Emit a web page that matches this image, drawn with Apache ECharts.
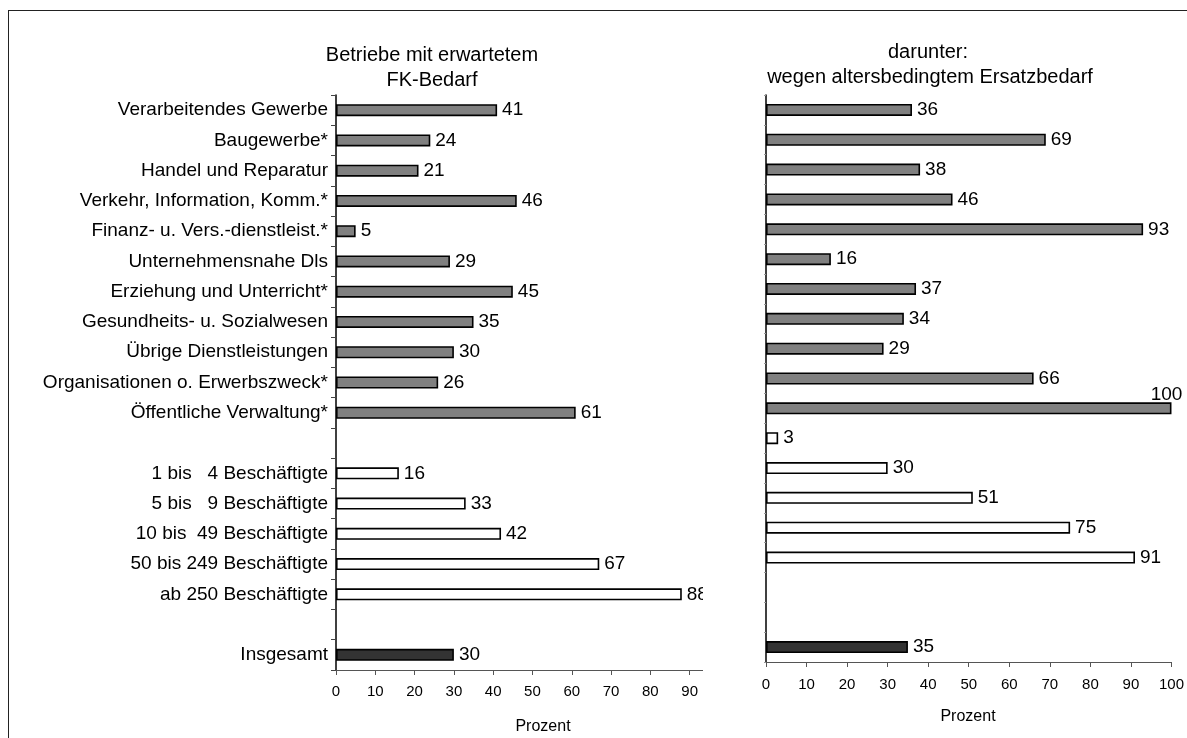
<!DOCTYPE html>
<html>
<head>
<meta charset="utf-8">
<script src="https://cdn.jsdelivr.net/npm/echarts@6/dist/echarts.min.js"></script>
<style>
  html, body { margin: 0; padding: 0; width: 1187px; height: 738px; overflow: hidden; background: #fff; }
  #frame { position: absolute; left: 8px; top: 10px; width: 1400px; height: 1000px;
           border-left: 1.5px solid #222; border-top: 1.5px solid #222; }
  #left  { position: absolute; left: 0; top: 0; width: 703px; height: 738px; overflow: hidden; }
  #right { position: absolute; left: 703px; top: 0; width: 484px; height: 738px; overflow: hidden; }
</style>
</head>
<body>
<div id="frame"></div>
<div id="left"></div>
<div id="right"></div>
<script>
// Wirtschaftszweige
const branchen = [
  'Verarbeitendes Gewerbe',
  'Baugewerbe*',
  'Handel und Reparatur',
  'Verkehr, Information, Komm.*',
  'Finanz- u. Vers.-dienstleist.*',
  'Unternehmensnahe Dls',
  'Erziehung und Unterricht*',
  'Gesundheits- u. Sozialwesen',
  'Übrige Dienstleistungen',
  'Organisationen o. Erwerbszweck*',
  'Öffentliche Verwaltung*'
];
// Betriebsgrößenklassen
const groessen = [
  '1 bis   4 Beschäftigte',
  '5 bis   9 Beschäftigte',
  '10 bis  49 Beschäftigte',
  '50 bis 249 Beschäftigte',
  'ab 250 Beschäftigte'
];
const gesamtName = 'Insgesamt';

// Betriebe mit erwartetem FK-Bedarf (Prozent)
const fkBranchen = [41, 24, 21, 46, 5, 29, 45, 35, 30, 26, 61];
const fkGroessen = [16, 33, 42, 67, 88];
const fkGesamt = 30;

// darunter: wegen altersbedingtem Ersatzbedarf (Prozent)
const ersatzBranchen = [36, 69, 38, 46, 93, 16, 37, 34, 29, 66, 100];
const ersatzGroessen = [3, 30, 51, 75, 91];
const ersatzGesamt = 35;

// Achsenbeschriftung
const ticksLinks = [0, 10, 20, 30, 40, 50, 60, 70, 80, 90];
const ticksRechts = [0, 10, 20, 30, 40, 50, 60, 70, 80, 90, 100];

const FONT = '"Liberation Sans", Arial, sans-serif';
const GRAU = '#808080', WEISS = '#ffffff', DUNKEL = '#333333';

function item(v, color) {
  return { value: v, itemStyle: { color: color } };
}

// left panel rows: branches, gap, size classes, gap, total
const linksKategorien = [...branchen, ' ', ...groessen, '  ', gesamtName];
const linksDaten = [
  ...fkBranchen.map(v => item(v, GRAU)),
  null,
  ...fkGroessen.map(v => item(v, WEISS)),
  null,
  item(fkGesamt, DUNKEL)
];

// right panel rows: branches, size classes, two gaps, total
const rechtsKategorien = [...branchen, ...groessen, ' ', '  ', gesamtName];
const rechtsDaten = [
  ...ersatzBranchen.map(v => item(v, GRAU)),
  ...ersatzGroessen.map(v => item(v, WEISS)),
  null,
  null,
  item(ersatzGesamt, DUNKEL)
];
// the full-length bar carries its label above the bar end
rechtsDaten.forEach(d => {
  if (d && d.value >= 100) {
    d.label = { position: ['100%', 0], align: 'center', verticalAlign: 'bottom', offset: [-5, 2] };
  }
});

function textEl(text, x, y, size) {
  return { type: 'text', x: x, y: y, silent: true,
    style: { text: text, align: 'center', verticalAlign: 'middle',
             fontSize: size, fontFamily: FONT, fill: '#000' } };
}

function barSeries(data) {
  return {
    type: 'bar',
    data: data,
    barWidth: 12,
    itemStyle: { borderColor: '#000', borderWidth: 1.6 },
    label: { show: true, position: 'right', distance: 5, color: '#000',
             fontSize: 19, fontFamily: FONT },
    animation: false
  };
}

function valueAxis(max, ticks, margin) {
  return {
    type: 'value', min: 0, max: max,
    axisLine: { show: true, lineStyle: { color: '#555', width: 1.2 } },
    axisTick: { show: true, length: 5, customValues: ticks, lineStyle: { color: '#555' } },
    axisLabel: { customValues: ticks, fontSize: 15, fontFamily: FONT, color: '#000', margin: margin },
    splitLine: { show: false }
  };
}

const links = echarts.init(document.getElementById('left'), null, { renderer: 'canvas' });
links.setOption({
  animation: false,
  grid: { left: 336, top: 95, width: 369, height: 575 },
  xAxis: valueAxis(93.4, ticksLinks, 14),
  yAxis: {
    type: 'category', inverse: true, data: linksKategorien,
    axisLine: { lineStyle: { color: '#000', width: 1.5 } },
    axisTick: { show: true, length: 5, lineStyle: { color: '#444' } },
    axisLabel: { fontSize: 19, fontFamily: FONT, color: '#000', margin: 8 }
  },
  series: [barSeries(linksDaten)],
  graphic: [
    textEl('Betriebe mit erwartetem', 432, 55, 20),
    textEl('FK-Bedarf', 432, 80, 20),
    textEl('Prozent', 543, 727, 16)
  ]
});

const rechts = echarts.init(document.getElementById('right'), null, { renderer: 'canvas' });
rechts.setOption({
  animation: false,
  grid: { left: 63, top: 95, width: 410, height: 567 },
  xAxis: valueAxis(100, ticksRechts, 15),
  yAxis: {
    type: 'category', inverse: true, data: rechtsKategorien,
    axisLine: { lineStyle: { color: '#000', width: 1.5 } },
    axisTick: { show: true, length: 2, lineStyle: { color: '#999' } },
    axisLabel: { show: false }
  },
  series: [barSeries(rechtsDaten)],
  graphic: [
    textEl('darunter:', 225, 52, 20),
    textEl('wegen altersbedingtem Ersatzbedarf', 227, 77, 20),
    textEl('Prozent', 265, 717, 16)
  ]
});
</script>
</body>
</html>
